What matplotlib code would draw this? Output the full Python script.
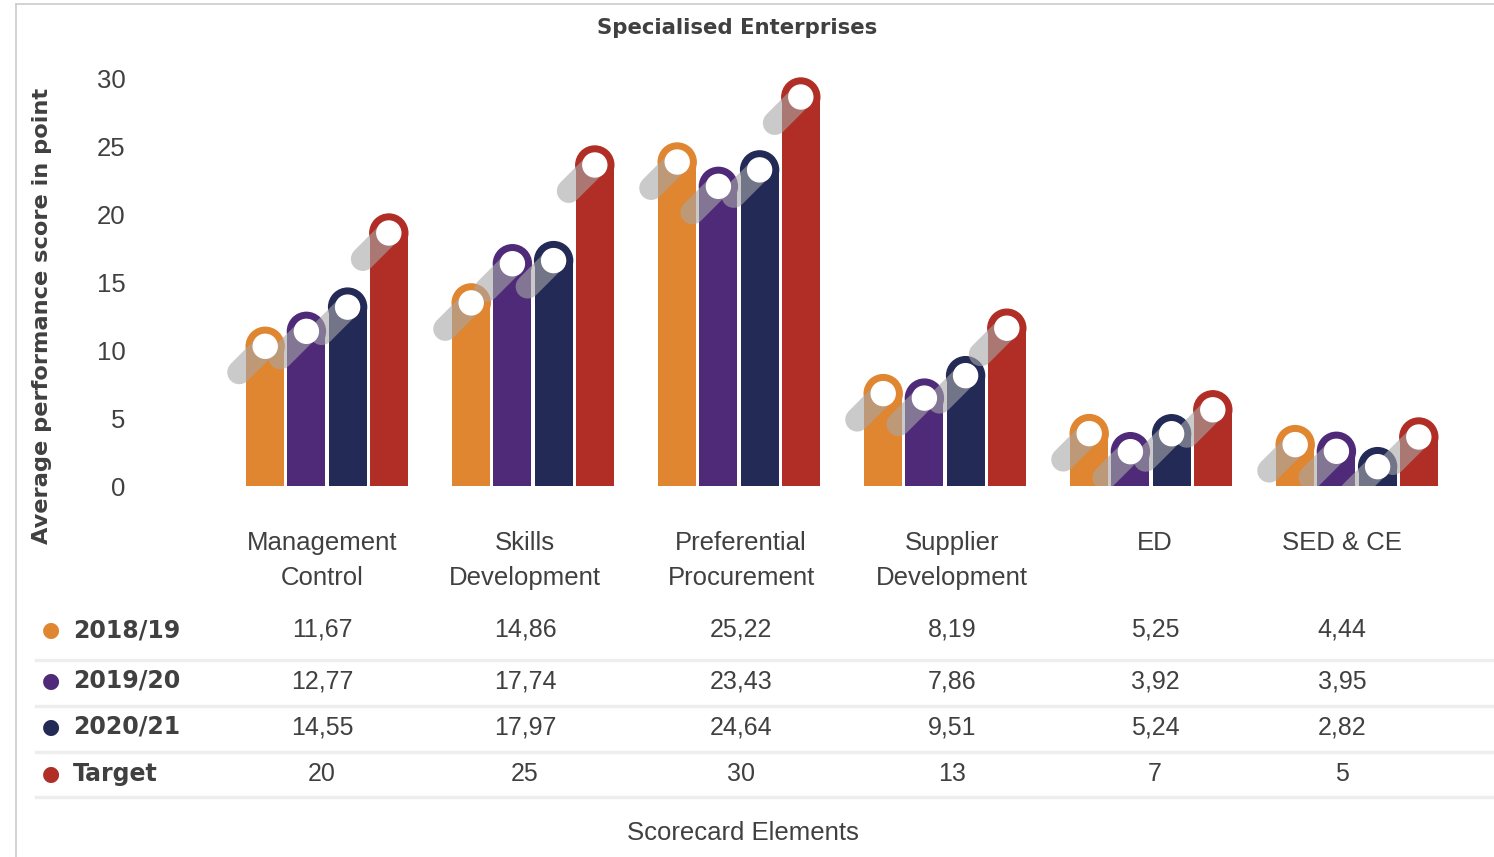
import numpy as np
import matplotlib
matplotlib.use("Agg")
import matplotlib.pyplot as plt
from matplotlib.patches import Ellipse
from matplotlib.lines import Line2D

categories = ["Management\nControl", "Skills\nDevelopment", "Preferential\nProcurement",
              "Supplier\nDevelopment", "ED", "SED & CE"]
series_names = ["2018/19", "2019/20", "2020/21", "Target"]
values_2018 = [11.67, 14.86, 25.22, 8.19, 5.25, 4.44]
values_2019 = [12.77, 17.74, 23.43, 7.86, 3.92, 3.95]
values_2020 = [14.55, 17.97, 24.64, 9.51, 5.24, 2.82]
values_target = [20, 25, 30, 13, 7, 5]
yticks = [0, 5, 10, 15, 20, 25, 30]

colors = ["#E08530", "#4E2A78", "#232A56", "#B02E26"]
all_series = [values_2018, values_2019, values_2020, values_target]

W, H = 1494, 857
fig = plt.figure(figsize=(W / 100, H / 100), dpi=100)
TXT = "#404040"

# axes placed in pixel terms: value 0 at y=486, 30 at y=78; groups 206 px apart
px_per_unit = (486 - 78) / 30
ax_left, ax_right = 224, 1460
ax_bottom, ax_top = 486, 50
ax = fig.add_axes([ax_left / W, 1 - ax_bottom / H,
                   (ax_right - ax_left) / W, (ax_bottom - ax_top) / H])
ax.set_xlim(-0.5, 5.5)
ax.set_ylim(0, (ax_bottom - ax_top) / px_per_unit)
for s in ax.spines.values():
    s.set_visible(False)
ax.set_xticks([])
ax.set_yticks(yticks)
ax.set_yticklabels([str(t) for t in yticks], fontsize=18.5, color=TXT,
                   family="Liberation Sans")
ax.tick_params(axis="y", length=0, pad=71)

px_x = (ax_right - ax_left) / 6.0
bar_w = 38 / px_x
ry = 19 / px_per_unit
offsets = [-0.3, -0.1, 0.1, 0.3]
x = np.arange(len(categories))

# bar bodies and rounded caps
for vals, off, col in zip(all_series, offsets, colors):
    heights = np.array(vals) - ry
    ax.bar(x + off, heights, width=bar_w, color=col, zorder=2)
    for xi, h in zip(x + off, heights):
        ax.add_patch(Ellipse((xi, h), bar_w, 2 * ry, color=col, zorder=2))

# grey sliding pills and white knobs
pill_lw = 24 * 72 / 100
d = 26
for vals, off in zip(all_series, offsets):
    for xi, v in zip(x + off, vals):
        cy = v - ry
        ax.plot([xi, xi - d / px_x], [cy, cy - d / px_per_unit], color="#a8a8a8",
                alpha=0.6, lw=pill_lw, solid_capstyle="round", zorder=3)
        ax.add_patch(Ellipse((xi, cy), 24 / px_x, 24 / px_per_unit,
                             color="white", zorder=4))

fig.text(737 / W, 1 - 28 / H, "Specialised Enterprises", fontsize=15.3, fontweight="bold",
         color=TXT, ha="center", va="center", family="DejaVu Sans")
fig.text(42 / W, 1 - 316 / H, "Average performance score in point", fontsize=16.2,
         fontweight="bold", color=TXT, rotation=90, ha="center", va="center",
         family="DejaVu Sans")

# table columns sit slightly off the bar groups
col_px = [322, 525, 741, 952, 1155, 1342]
for cx, cat in zip(col_px, categories):
    fig.text(cx / W, 1 - 531 / H, cat, ha="center", va="top", fontsize=18.5,
             color=TXT, linespacing=1.6, family="Liberation Sans")

row_y = [630, 681, 727, 774]
for name, vals, col, ry_px in zip(series_names, all_series, colors, row_y):
    yf = 1 - ry_px / H
    fig.text(51 / W, yf, "\u25CF", color=col, fontsize=15, ha="center", va="center",
             family="DejaVu Sans")
    fig.text(73 / W, yf, name, color=TXT, fontsize=17, fontweight="bold",
             ha="left", va="center", family="DejaVu Sans")
    for cx, v in zip(col_px, vals):
        label = f"{v:.2f}".replace(".", ",") if name != "Target" else str(v)
        fig.text(cx / W, yf, label, ha="center", va="center", fontsize=18,
                 color=TXT, family="Liberation Sans")

for ly in [660, 706, 752, 797]:
    fig.add_artist(Line2D([36 / W, 1], [1 - ly / H] * 2, color="#eeeeee", lw=2.5))

fig.text(743 / W, 1 - 833 / H, "Scorecard Elements", fontsize=18.5, color=TXT,
         ha="center", va="center", family="Liberation Sans")

# frame edges
fig.add_artist(Line2D([16 / W, 16 / W], [0, 1 - 4 / H], color="#cccccc", lw=1.2))
fig.add_artist(Line2D([16 / W, 1], [1 - 4 / H, 1 - 4 / H], color="#cccccc", lw=1.2))

fig.savefig("out.png", dpi=100)
